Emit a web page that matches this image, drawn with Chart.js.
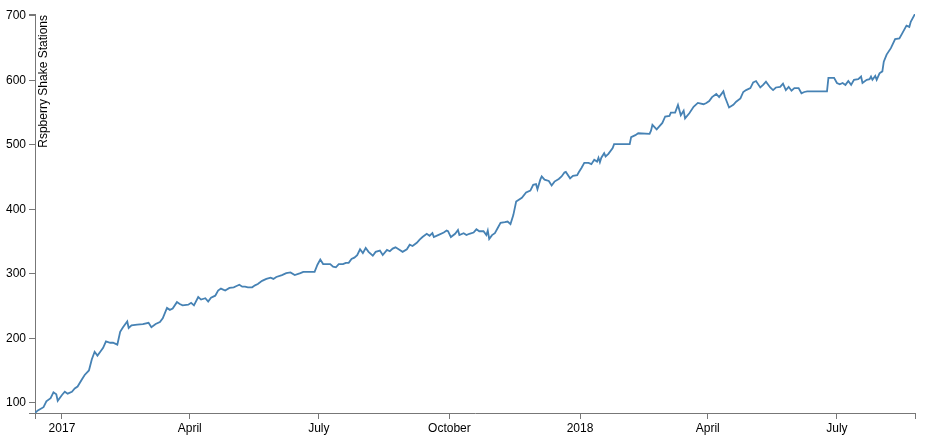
<!DOCTYPE html>
<html>
<head>
<meta charset="utf-8">
<script src="https://cdn.jsdelivr.net/npm/chart.js@4"></script>
<style>
    html, body { margin: 0; padding: 0; background: #fff; }
    #wrap { width: 929px; height: 443px; }
</style>
</head>
<body>
<div id="wrap"><canvas id="grafico"></canvas></div>
<script>
// daily station count (day offset from startDate)
const startDate = '2016-12-13';
const dayOffsets = [
    0, 2, 6, 8, 11, 13, 15, 16, 19, 21, 23, 26, 28, 30, 33, 35, 38, 40, 42, 44,
    46, 48, 50, 53, 55, 58, 60, 62, 65, 66, 68, 72, 76, 80, 82, 85, 88, 90, 93, 95,
    97, 100, 102, 104, 108, 110, 112, 115, 117, 120, 122, 124, 127, 129, 131, 134, 137, 140, 142, 144,
    146, 148, 150, 153, 155, 157, 160, 163, 166, 168, 170, 174, 177, 180, 183, 187, 189, 197, 199, 201,
    203, 205, 208, 210, 212, 214, 217, 219, 221, 223, 225, 227, 229, 231, 233, 235, 238, 240, 243, 245,
    248, 250, 252, 254, 257, 259, 262, 264, 266, 269, 271, 273, 276, 278, 280, 281, 284, 288, 290, 291,
    293, 296, 298, 299, 302, 304, 306, 309, 311, 313, 316, 318, 319, 320, 322, 324, 326, 328, 331, 333,
    335, 337, 339, 343, 346, 349, 351, 353, 354, 356, 357, 359, 362, 364, 366, 369, 371, 373, 374, 377,
    379, 382, 383, 385, 387, 390, 392, 394, 396, 397, 398, 399, 401, 402, 404, 407, 408, 419, 420, 423,
    425, 433, 434, 435, 438, 440, 442, 444, 447, 448, 451, 453, 455, 457, 458, 461, 464, 467, 471, 473,
    475, 477, 480, 482, 485, 486, 489, 492, 494, 497, 499, 501, 504, 506, 508, 511, 513, 515, 518, 520,
    522, 525, 527, 529, 531, 533, 535, 538, 540, 542, 544, 558, 559, 563, 565, 567, 569, 571, 573, 575,
    577, 580, 582, 583, 586, 588, 589, 590, 592, 593, 595, 597, 598, 600, 603, 606, 609, 611, 614, 616,
    617, 620
];
const stations = [
    84, 88, 93, 102, 107, 116, 113, 103, 112, 117, 114, 117, 122, 125, 136, 143, 150, 167, 179, 173,
    179, 185, 195, 193, 193, 190, 210, 217, 226, 216, 220, 221, 222, 224, 217, 222, 225, 231, 247, 244,
    246, 256, 253, 251, 252, 255, 251, 264, 260, 262, 257, 263, 266, 274, 277, 274, 278, 279, 281, 283,
    280, 280, 279, 279, 282, 284, 289, 292, 294, 292, 295, 298, 301, 302, 298, 301, 303, 303, 314, 322,
    315, 315, 315, 311, 310, 315, 315, 317, 317, 323, 325, 329, 338, 332, 340, 334, 328, 334, 336, 329,
    337, 335, 339, 341, 337, 334, 338, 345, 343, 348, 353, 357, 362, 359, 363, 357, 360, 364, 367, 366,
    357, 362, 368, 360, 363, 360, 362, 364, 369, 366, 366, 360, 367, 354, 360, 363, 371, 379, 380, 381,
    377, 391, 412, 418, 426, 429, 438, 439, 431, 446, 451, 446, 444, 437, 443, 447, 451, 457, 458, 448,
    452, 453, 457, 464, 472, 472, 470, 477, 474, 480, 473, 480, 487, 482, 486, 495, 501, 501, 512, 515,
    518, 517, 522, 531, 524, 529, 534, 544, 545, 550, 550, 562, 546, 553, 541, 549, 559, 565, 563, 565,
    568, 574, 579, 574, 583, 575, 558, 562, 567, 572, 582, 585, 588, 597, 599, 589, 593, 598, 589, 585,
    589, 590, 595, 585, 590, 584, 588, 588, 580, 582, 583, 583, 604, 604, 596, 594, 596, 593, 599, 593,
    601, 602, 606, 596, 601, 602, 606, 601, 607, 601, 611, 614, 629, 640, 650, 664, 665, 673, 685, 683,
    691, 703
];
const xTickDates = ['2017-01-01', '2017-04-01', '2017-07-01', '2017-10-01', '2018-01-01', '2018-04-01', '2018-07-01'];
const xTickLabels = ['2017', 'April', 'July', 'October', '2018', 'April', 'July'];
const yTickValues = [100, 200, 300, 400, 500, 600, 700];
const yTitle = 'Rspberry Shake Stations';

const DAY = 86400000;
const t0 = Date.parse(startDate + 'T00:00:00Z');
const puntos = dayOffsets.map((d, i) => ({ x: t0 + d * DAY, y: stations[i] }));
const xTicks = xTickDates.map(s => Date.parse(s + 'T00:00:00Z'));
const xMin = puntos[0].x;
const xMax = puntos[puntos.length - 1].x;
const yMin = Math.min(...stations);
const yMax = Math.max(...stations);

const fuente = { family: '"Liberation Sans", Arial, sans-serif', size: 12 };
const gris = '#777';

const tituloY = {
    id: 'tituloY',
    afterDraw(chart) {
        const ctx = chart.ctx;
        const area = chart.chartArea;
        ctx.save();
        ctx.translate(area.left, area.top);
        ctx.rotate(-Math.PI / 2);
        ctx.font = '12px "Liberation Sans", Arial, sans-serif';
        ctx.fillStyle = '#000';
        ctx.textAlign = 'right';
        ctx.textBaseline = 'alphabetic';
        ctx.fillText(yTitle, -1, 12);
        ctx.restore();
    }
};

new Chart(document.getElementById('grafico').getContext('2d'), {
    type: 'line',
    data: {
        datasets: [{
            data: puntos,
            borderColor: '#4682b4',
            borderWidth: 1.8,
            pointRadius: 0,
            tension: 0,
            fill: false
        }]
    },
    options: {
        responsive: true,
        maintainAspectRatio: false,
        animation: false,
        layout: { padding: { top: 14, right: 14, left: 0, bottom: 0 } },
        plugins: { legend: { display: false }, tooltip: { enabled: false } },
        scales: {
            x: {
                type: 'linear',
                min: xMin,
                max: xMax,
                afterBuildTicks: function (scale) {
                    scale.ticks = [xMin, ...xTicks, xMax].map(v => ({ value: v }));
                },
                afterFit: function (scale) { scale.height = 30; },
                grid: { drawOnChartArea: false, drawTicks: true, tickLength: 6, color: gris },
                border: { display: true, color: gris },
                ticks: {
                    autoSkip: false,
                    maxRotation: 0,
                    minRotation: 0,
                    padding: 2,
                    color: '#000',
                    font: fuente,
                    callback: function (value) {
                        const i = xTicks.indexOf(value);
                        return i >= 0 ? xTickLabels[i] : '';
                    }
                }
            },
            y: {
                type: 'linear',
                min: yMin,
                max: yMax,
                afterBuildTicks: function (scale) {
                    scale.ticks = [yMin, ...yTickValues, yMax].map(v => ({ value: v }));
                },
                afterFit: function (scale) { scale.width = 35; },
                grid: { drawOnChartArea: false, drawTicks: true, tickLength: 6, color: gris },
                border: { display: true, color: gris },
                ticks: {
                    padding: 3,
                    color: '#000',
                    font: fuente,
                    callback: function (value) {
                        return yTickValues.includes(value) ? String(value) : '';
                    }
                }
            }
        }
    },
    plugins: [tituloY]
});
</script>
</body>
</html>
